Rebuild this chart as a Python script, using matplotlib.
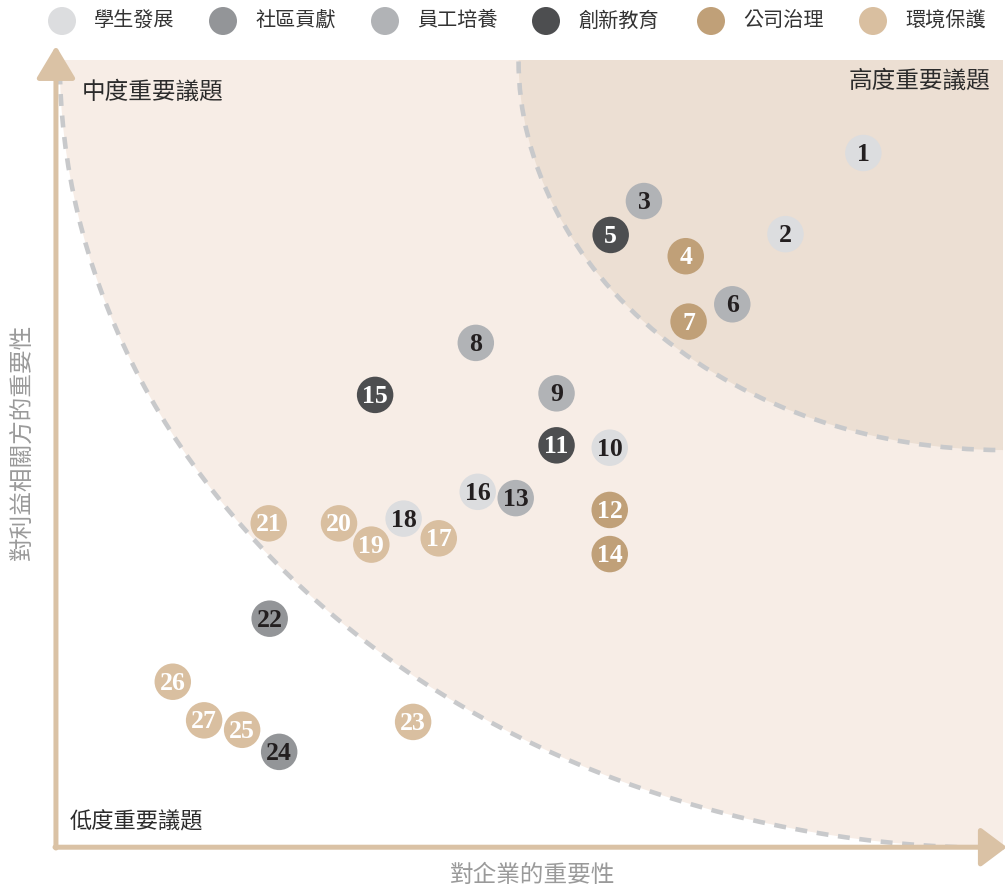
import matplotlib
matplotlib.use("Agg")
import matplotlib.pyplot as plt
from matplotlib.patches import Ellipse

# ---- datos ----
categorias = ["學生發展", "社區貢獻", "員工培養", "創新教育", "公司治理", "環境保護"]
cores = ["#dcdddf", "#939598", "#b1b3b6", "#4d4e50", "#c0a078", "#d9bfa0"]
cor_texto = ["#231f20", "#231f20", "#231f20", "#ffffff", "#ffffff", "#ffffff"]

numeros = list(range(1, 28))
# importancia para a empresa (x) e para as partes interessadas (y), escala 0-100
imp_empresa = [85.1, 76.9, 62.0, 66.4, 58.5, 71.3, 66.7, 44.3, 52.8, 58.4,
               52.8, 58.4, 48.5, 58.4, 33.7, 44.5, 40.4, 36.7, 33.3, 29.9,
               22.5, 22.6, 37.7, 23.6, 19.7, 12.4, 15.7]
imp_partes = [88.2, 77.9, 82.1, 75.1, 77.8, 69.0, 66.8, 64.1, 57.7, 50.8,
              51.1, 42.9, 44.4, 37.3, 57.5, 45.2, 39.3, 41.8, 38.5, 41.2,
              41.2, 29.1, 16.0, 12.2, 15.0, 21.1, 16.2]
# indice da categoria de cada tema
cat_tema = [0, 0, 2, 4, 3, 2, 4, 2, 2, 0,
            3, 4, 2, 4, 3, 0, 5, 0, 5, 5,
            5, 1, 5, 1, 5, 5, 5]

rotulo_x = "對企業的重要性"
rotulo_y = "對利益相關方的重要性"
zonas = ["低度重要議題", "中度重要議題", "高度重要議題"]

fonte_cjk = ["Noto Sans CJK TC", "DejaVu Sans"]
fonte_num = ["Liberation Serif", "DejaVu Serif"]

W, H = 1005, 889
fig = plt.figure(figsize=(W / 100, H / 100), dpi=100)
ax = fig.add_axes([55 / W, 41 / H, 948 / W, 788 / H])
ax.set_xlim(0, 99.8)
ax.set_ylim(0, 100)
ax.axis("off")

## zonas de fundo ##
ax.add_patch(Ellipse((99.5, 100), 198, 200, facecolor="#f7ede6", edgecolor="none", zorder=1))
ax.add_patch(Ellipse((99.8, 100), 102, 99, facecolor="#ecdfd3", edgecolor="none", zorder=2))
tracejado = dict(facecolor="none", edgecolor="#c8c9cb", lw=3.3, linestyle=(0, (2.6, 2.1)), zorder=3)
ax.add_patch(Ellipse((99.5, 100), 198, 200, **tracejado))
ax.add_patch(Ellipse((99.8, 100), 102, 99, **tracejado))

## eixos com setas ##
cor_eixo = "#dac2a5"
ax.annotate("", xy=(0.001, 1.018), xytext=(0.001, 0.0), xycoords="axes fraction",
            arrowprops=dict(arrowstyle="-|>,head_length=1.0,head_width=0.6", color=cor_eixo,
                            lw=3.6, shrinkA=0, shrinkB=0, mutation_scale=20),
            annotation_clip=False, zorder=4)
ax.annotate("", xy=(1.004, 0.001), xytext=(0.0, 0.001), xycoords="axes fraction",
            arrowprops=dict(arrowstyle="-|>,head_length=0.8,head_width=0.6", color=cor_eixo,
                            lw=3.6, shrinkA=0, shrinkB=0, mutation_scale=20),
            annotation_clip=False, zorder=4)

## bolhas ##
for n, x, y, c in zip(numeros, imp_empresa, imp_partes, cat_tema):
    ax.scatter(x, y, s=690, color=cores[c], edgecolors="none", zorder=5, clip_on=False)
    ax.text(x, y - 0.2, str(n), ha="center", va="center", fontsize=18.5, fontweight="bold",
            family=fonte_num, color=cor_texto[c], zorder=6)

## rotulos das zonas ##
fig.text(70 / W, 1 - 822 / H, zonas[0], ha="left", va="center", fontsize=16,
         family=fonte_cjk, color="#2b2b2b", fontweight="medium")
fig.text(82 / W, 1 - 92 / H, zonas[1], ha="left", va="center", fontsize=17,
         family=fonte_cjk, color="#2b2b2b", fontweight="medium")
fig.text(990 / W, 1 - 81 / H, zonas[2], ha="right", va="center", fontsize=17,
         family=fonte_cjk, color="#2b2b2b", fontweight="medium")

## titulos dos eixos ##
fig.text(533 / W, 1 - 875 / H, rotulo_x, ha="center", va="center", fontsize=17,
         family=fonte_cjk, color="#9a9a9a")
fig.text(22 / W, 1 - 442 / H, rotulo_y, ha="center", va="center", fontsize=17,
         family=fonte_cjk, color="#9a9a9a", rotation=90)

## legenda ##
leg_x = [62, 223, 385, 546, 711, 873]
for i, nome in enumerate(categorias):
    fig.patches.append(Ellipse((leg_x[i] / W, 1 - 21 / H), 28 / W, 28 / H,
                               transform=fig.transFigure, facecolor=cores[i], edgecolor="none"))
    fig.text((leg_x[i] + 32) / W, 1 - 21 / H, nome, ha="left", va="center", fontsize=14.5,
             family=fonte_cjk, color="#333333")

fig.savefig("out.png", dpi=100)
